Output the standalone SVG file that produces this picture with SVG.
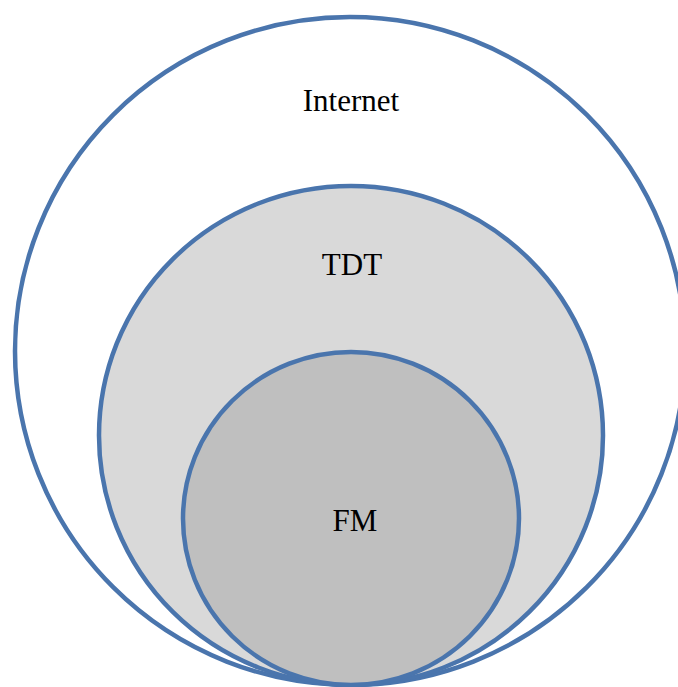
<svg xmlns="http://www.w3.org/2000/svg" width="678" height="687" viewBox="0 0 678 687">
<style>
.c{stroke:#4a75ad;stroke-width:4.5}
.t{font-family:"Liberation Serif","Times New Roman",serif;font-size:31px;fill:#000;text-anchor:middle}
</style>
<rect width="678" height="687" fill="#fff"/>
<g id="internet">
<ellipse class="c" cx="350" cy="351" rx="335" ry="334" fill="#fff"/>
<text class="t" x="351" y="111">Internet</text>
</g>
<g id="tdt">
<ellipse class="c" cx="351" cy="435.5" rx="252" ry="249.5" fill="#d9d9d9"/>
<text class="t" x="352" y="275">TDT</text>
</g>
<g id="fm">
<ellipse class="c" cx="351" cy="518.5" rx="168" ry="166.5" fill="#bfbfbf"/>
<text class="t" x="355" y="531">FM</text>
</g>
<g id="connectors"/>
</svg>
